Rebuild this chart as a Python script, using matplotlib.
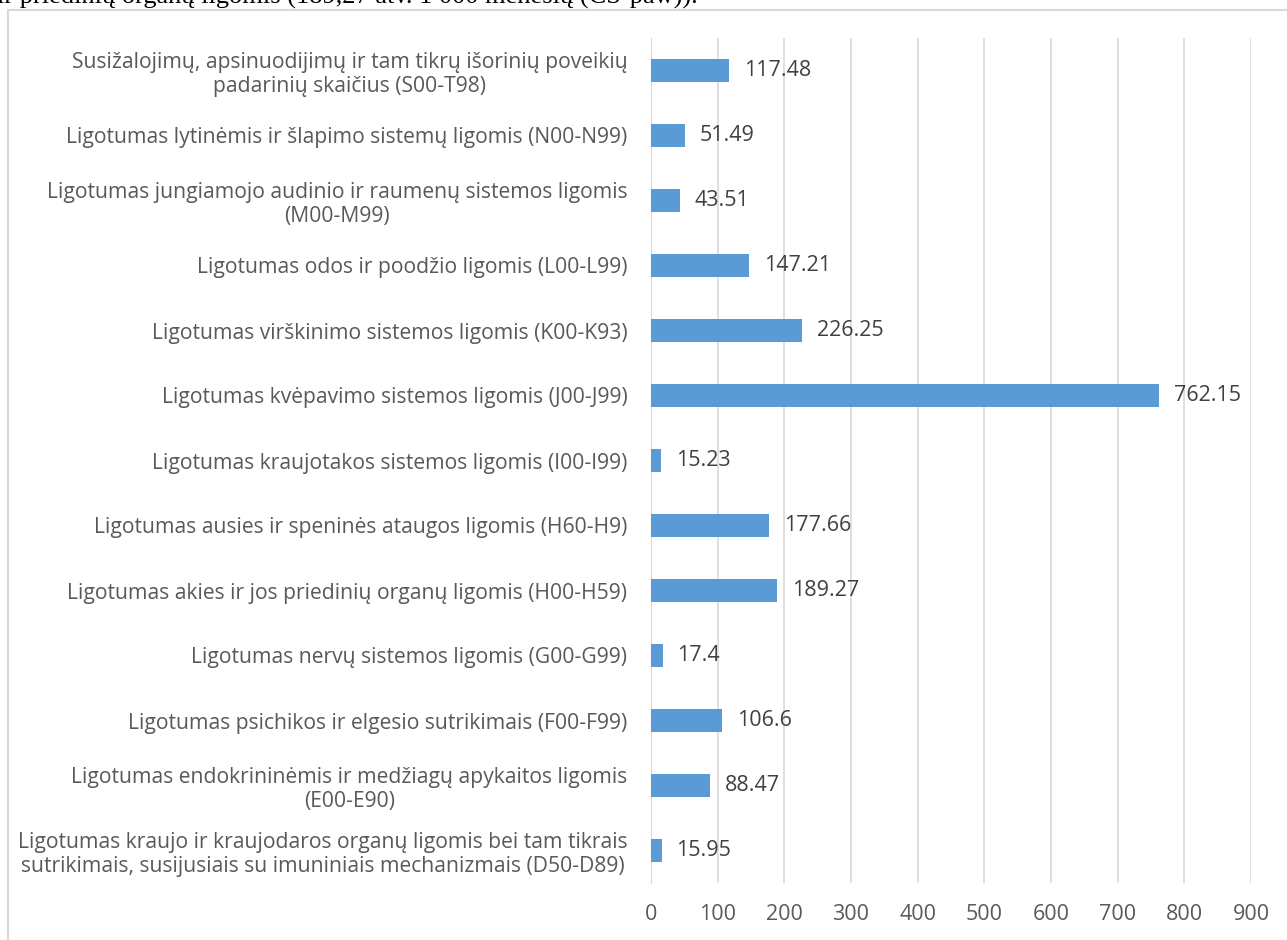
import matplotlib.pyplot as plt
from matplotlib.patches import Rectangle

# categories listed top to bottom as in the chart
labels = [
    "Susižalojimų, apsinuodijimų ir tam tikrų išorinių poveikių\npadarinių skaičius (S00-T98)",
    "Ligotumas lytinėmis ir šlapimo sistemų ligomis (N00-N99)",
    "Ligotumas jungiamojo audinio ir raumenų sistemos ligomis\n(M00-M99)",
    "Ligotumas odos ir poodžio ligomis (L00-L99)",
    "Ligotumas virškinimo sistemos ligomis (K00-K93)",
    "Ligotumas kvėpavimo sistemos ligomis (J00-J99)",
    "Ligotumas kraujotakos sistemos ligomis (I00-I99)",
    "Ligotumas ausies ir speninės ataugos ligomis (H60-H9)",
    "Ligotumas akies ir jos priedinių organų ligomis (H00-H59)",
    "Ligotumas nervų sistemos ligomis (G00-G99)",
    "Ligotumas psichikos ir elgesio sutrikimais (F00-F99)",
    "Ligotumas endokrininėmis ir medžiagų apykaitos ligomis\n(E00-E90)",
    "Ligotumas kraujo ir kraujodaros organų ligomis bei tam tikrais\nsutrikimais, susijusiais su imuniniais mechanizmais (D50-D89)",
]
values = [117.48, 51.49, 43.51, 147.21, 226.25, 762.15, 15.23,
          177.66, 189.27, 17.4, 106.6, 88.47, 15.95]
value_text = ["117.48", "51.49", "43.51", "147.21", "226.25", "762.15", "15.23",
              "177.66", "189.27", "17.4", "106.6", "88.47", "15.95"]
xticks = [0, 100, 200, 300, 400, 500, 600, 700, 800, 900]

plt.rcParams["font.family"] = ["Open Sans", "DejaVu Sans"]
grey = "#595959"

fig = plt.figure(figsize=(12.87, 9.4), dpi=100)

# chart frame (cut at right and bottom)
fig.patches.append(Rectangle((8 / 1287, -0.01), 1.0, 1 - 10 / 940 + 0.01,
                             transform=fig.transFigure, fill=False,
                             edgecolor="#D9D9D9", linewidth=1.5))
# cropped line of document text above the chart
fig.text(-0.002, 1.0 - 3 / 940, "ir priedinių organų ligomis (189,27 atv. 1 000 mėnesių (ČS-paw)).",
         family="Liberation Serif", fontsize=19, color="black", va="baseline", ha="left")

ax = fig.add_axes([651 / 1287, 57 / 940, 600 / 1287, 845 / 940])

n = len(values)
ypos = list(range(n))[::-1]
ax.barh(ypos, values, height=0.34, color="#5B9BD5", zorder=3)
for y, v, t in zip(ypos, values, value_text):
    ax.text(v + 22, y, t, va="center", ha="left", fontsize=15.5, color="#404040")

ax.set_xlim(0, 900)
ax.set_ylim(-0.5, n - 0.5)
ax.set_xticks(xticks)
ax.set_xticklabels([str(x) for x in xticks], fontsize=15.5, color=grey)
ax.set_yticks(ypos)
ax.set_yticklabels(labels, fontsize=15.2, color=grey, multialignment="center",
                   linespacing=1.2)
ax.tick_params(axis="x", length=0, pad=15)
ax.tick_params(axis="y", length=0, pad=17)
ax.grid(axis="x", color="#D9D9D9", linewidth=1.2, zorder=0)
for s in ["top", "right", "bottom"]:
    ax.spines[s].set_visible(False)
ax.spines["left"].set_color("#D9D9D9")

fig.savefig("out.png", dpi=100)
